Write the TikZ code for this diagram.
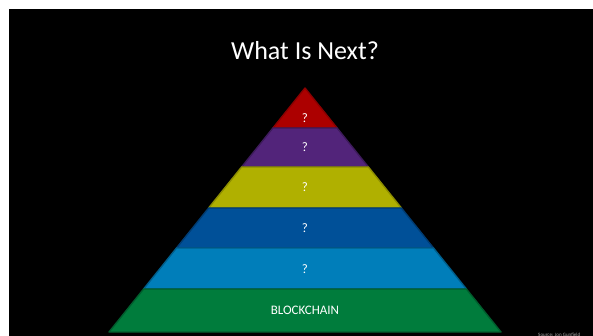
\documentclass[tikz,border=0pt]{standalone}
\usepackage{fontspec}
\setmainfont{Carlito}
\usepackage{tikz}

\definecolor{tipred}{RGB}{172,0,0}
\definecolor{layerpurple}{RGB}{82,36,122}
\definecolor{layeryellow}{RGB}{176,176,0}
\definecolor{layerdarkblue}{RGB}{0,80,152}
\definecolor{layerblue}{RGB}{0,126,186}
\definecolor{layergreen}{RGB}{0,124,60}

\begin{document}
\begin{tikzpicture}[x=1pt,y=-1pt]
        \tikzstyle{every node}+=[inner sep=0pt]
        \tikzstyle{band}=[line width=1.4pt, line join=round]
        \tikzstyle{lvltext}=[text=white, font=\fontsize{13}{15}\selectfont]
        \useasboundingbox (0,0) rectangle (593,336);
        \fill [white] (0,0) rectangle (593,336);
        \fill [black] (9,9) rectangle (593,336);
        \node [text=white, font=\fontsize{26}{30}\selectfont] (title) at (305,51) {What Is Next?};
        % pyramid, top to bottom
        \draw [band, fill=tipred, draw=tipred!80!black] (305,88) -- (337.1,128) -- (272.9,128) -- cycle;
        \node [lvltext] (top) at (305,118) {?};
        \draw [band, fill=layerpurple, draw=layerpurple!75!black] (272.9,128) -- (337.1,128) -- (368.4,167) -- (241.6,167) -- cycle;
        \node [lvltext] (fifth) at (305,147) {?};
        \draw [band, fill=layeryellow, draw=layeryellow!80!black] (241.6,167) -- (368.4,167) -- (401.4,208) -- (208.6,208) -- cycle;
        \node [lvltext] (fourth) at (305,187) {?};
        \draw [band, fill=layerdarkblue, draw=layerdarkblue!75!black] (208.6,208) -- (401.4,208) -- (433.5,248) -- (176.5,248) -- cycle;
        \node [lvltext] (third) at (305,228) {?};
        \draw [band, fill=layerblue, draw=layerblue!75!black] (176.5,248) -- (433.5,248) -- (466.4,289) -- (143.6,289) -- cycle;
        \node [lvltext] (second) at (305,269) {?};
        \draw [band, fill=layergreen, draw=layergreen!75!black] (143.6,289) -- (466.4,289) -- (501,332) -- (109,332) -- cycle;
        \node [lvltext] (base) at (305,310) {BLOCKCHAIN};
        \node [anchor=base west, text=gray!70, font=\fontsize{5}{6}\selectfont] (source) at (538,336) {Source: Jon Gunfield};
\end{tikzpicture}
\end{document}
